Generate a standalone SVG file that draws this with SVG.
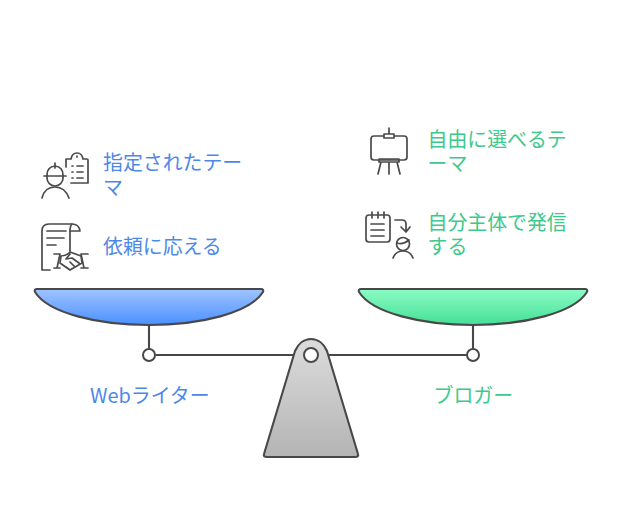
<svg xmlns="http://www.w3.org/2000/svg" width="624" height="531" viewBox="0 0 624 531">
<style>
.s{fill:none;stroke:#484848;stroke-width:2.1;stroke-linecap:round;stroke-linejoin:round}
.i{fill:none;stroke:#4a4a4a;stroke-width:1.7;stroke-linecap:round;stroke-linejoin:round}
.c{fill:#fff;stroke:#484848;stroke-width:2}
.t{font-family:"Noto Sans CJK JP","Noto Sans",sans-serif;font-size:19.9px}
.b{fill:#4e88e7}
.g{fill:#3dc98b}
</style>
<defs>
<linearGradient id="gb" x1="0" y1="0" x2="0" y2="1"><stop offset="0" stop-color="#a0c4ff"/><stop offset="1" stop-color="#4a90ff"/></linearGradient>
<linearGradient id="gg" x1="0" y1="0" x2="0" y2="1"><stop offset="0" stop-color="#8bfcc4"/><stop offset="1" stop-color="#45df97"/></linearGradient>
<linearGradient id="gs" x1="0" y1="0" x2="0" y2="1"><stop offset="0" stop-color="#dcdcdc"/><stop offset="1" stop-color="#b4b4b4"/></linearGradient>
</defs>
<g id="connectors">
<path class="s" d="M149 325V355H473V325"/>
</g>
<g id="left-pan"><path class="s" style="fill:url(#gb)" d="M37 289H261Q264 289 263 292C250 313 200 325 149 325C98 325 48 313 35 292Q34 289 37 289Z"/></g>
<g id="right-pan"><path class="s" style="fill:url(#gg)" d="M361 289H585Q588 289 587 292C574 313 524 325 473 325C422 325 372 313 359 292Q358 289 361 289Z"/></g>
<g id="left-joint"><circle class="c" cx="149" cy="355" r="6"/></g>
<g id="right-joint"><circle class="c" cx="473" cy="355" r="6"/></g>
<g id="fulcrum">
<path class="s" style="fill:url(#gs)" d="M295 351C298 344 304 339 311 339C318 339 324 344 327 351L358 454Q359 457 355 457H267Q263 457 264 454Z"/>
<circle class="c" cx="311" cy="355" r="7"/>
</g>
<g id="icon-worker" class="i">
<path d="M47 176V178A8 8 0 0 0 63 178V176"/>
<path d="M44 176H66M47 175Q47 167 55 166Q63 167 63 175M55 163V168M42 198C44 190 49 187 55 187C61 187 66 190 69 198"/>
<path d="M66 159H71Q72 153 77 153Q82 153 83 159H87Q88 159 88 160V183H71M66 159V167M77 156v1"/>
<path d="M72 166h1M77 166h6M72 172h1M77 172h6M72 178h1M77 178h6"/>
</g>
<g id="icon-contract" class="i">
<path d="M50 270H42V231Q42 224 49 224H72Q79 224 80 231H70V251"/>
<path d="M72 224Q70 226 70 231M47 231H66M47 238H64M47 245H56"/>
<path d="M54 254H60L57 268M54 268H60M88 254H81L84 268M88 268H81"/>
<path d="M61 256Q66 256 70 252L81 256L82 263L70 270L60 263ZM70 254L66 259L72 258L79 263M66 267L70 270M70 262L75 267"/>
</g>
<g id="icon-easel" class="i">
<path d="M389 128V134M384 134H394V138H384ZM384 136H374Q371 136 371 139V157Q371 160 374 160H404Q407 160 407 157V139Q407 136 404 136H394"/>
<path d="M379 159H399V162H379ZM381 162L378 174M389 162V174M397 162L400 174"/>
</g>
<g id="icon-blogger" class="i">
<path d="M369 215H387Q390 215 390 218V239Q390 242 387 242H369Q366 242 366 239V218Q366 215 369 215ZM372 212V218M378 212V218M384 212V218M371 224H384M371 230H384M371 236H384"/>
<path d="M395 220H402Q406 220 406 224V232M401 227L406 232L410 227"/>
<circle cx="403" cy="244" r="6.5"/>
<path d="M397 243Q403 245 409 240M393 258C395 253 399 251 403 251C407 251 411 253 413 258"/>
</g>
<g id="labels">
<text class="t b" x="103" y="169.5">指定されたテー</text>
<text class="t b" x="103" y="194.5">マ</text>
<text class="t b" x="103" y="254">依頼に応える</text>
<text class="t g" x="427.5" y="146.5">自由に選べるテ</text>
<text class="t g" x="427.5" y="170.5">ーマ</text>
<text class="t g" x="427.5" y="229.5">自分主体で発信</text>
<text class="t g" x="427.5" y="254">する</text>
<text class="t b" x="90" y="403">Webライター</text>
<text class="t g" x="433.5" y="403">ブロガー</text>
</g>
</svg>
